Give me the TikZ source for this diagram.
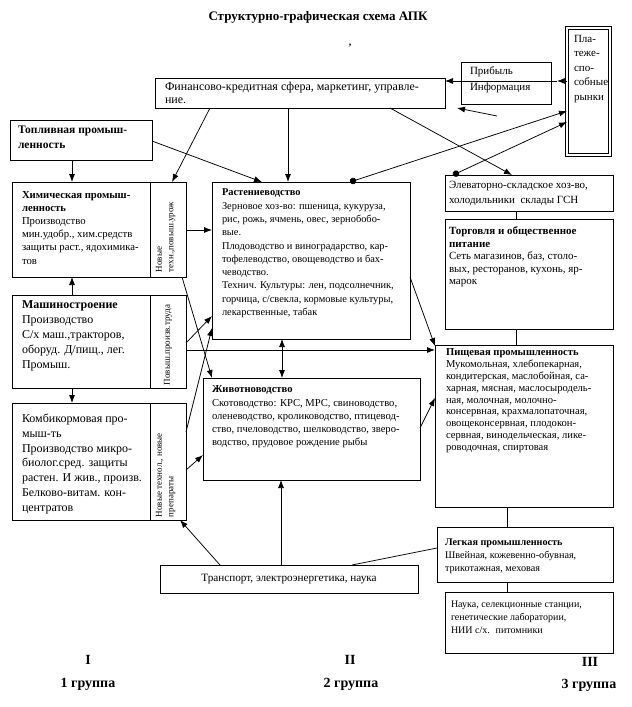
\documentclass[tikz,border=0pt]{standalone}
\usepackage{fontspec}
\setmainfont{Liberation Serif}
\usetikzlibrary{arrows.meta}
\newcommand\fs[2]{\fontsize{#1}{#2}\selectfont}
\newcommand\mkbox[6][]{\node[box,#1,anchor=north west,minimum width={#4-#2},minimum height={#5-#3}] (#6) at (#2,#3) {};}
\begin{document}
\begin{tikzpicture}[x=1pt,y=-1pt,
  box/.style={draw, line width=0.9pt, inner sep=0pt, outer sep=0pt},
  txt/.style={inner sep=0pt, outer sep=0pt, align=left, anchor=north west},
  arr/.style={line width=0.75pt, -{Latex[length=8pt,width=6pt]}},
  dblarr/.style={line width=0.75pt, {Latex[length=8pt,width=6pt]}-{Latex[length=8pt,width=6pt]}},
  ln/.style={line width=0.75pt},
  dotarr/.style={line width=0.75pt, {Circle[length=6.5pt]}-{Latex[length=8pt,width=6pt]}},
  side/.style={inner sep=0pt, outer sep=0pt, align=left, rotate=90, font=\fs{9}{11.5}},
  grp/.style={font=\bfseries\fs{14}{16}, inner sep=0pt}
]
\useasboundingbox (0,0) rectangle (632,707);

% title
\node[font=\bfseries\fs{13}{15}] (title) at (318,17) {Структурно-графическая схема АПК};
\node[font=\bfseries\fs{10}{12}] (comma) at (350,46) {,};

% boxes
\mkbox{155}{78}{445}{108}{fin}
\mkbox{461}{62}{551}{104}{prib}
\mkbox[double, double distance=2.2pt, line width=1.1pt]{567}{28}{610}{155}{plat}
\mkbox{10}{120}{152}{160}{topl}
\mkbox{12}{182}{150}{277}{him}
\mkbox{150}{182}{186}{277}{side1}
\mkbox{12}{295}{150}{388}{mash}
\mkbox{150}{295}{186}{388}{side2}
\mkbox{12}{403}{150}{520}{komb}
\mkbox{150}{403}{186}{520}{side3}
\mkbox{212}{182}{410}{339}{rast}
\mkbox{203}{378}{420}{480}{zhiv}
\mkbox{445}{175}{613}{211}{elev}
\mkbox{445}{219}{613}{329}{torg}
\mkbox{435}{345}{613}{507}{pish}
\mkbox{437}{527}{613}{582}{legk}
\mkbox{445}{592}{613}{653}{nauka}
\mkbox{160}{565}{418}{593}{trans}

% texts
\node[txt, font=\fs{12}{13}] (t-fin) at (165,82) {Финансово-кредитная сфера, маркетинг, управле-\\ние.};
\node[txt, font=\fs{11}{16}] (t-prib) at (470,67) {Прибыль\\Информация};
\node[txt, font=\fs{11}{14.5}] (t-plat) at (574,35) {Пла-\\теже-\\спо-\\собные\\рынки};
\node[txt, font=\bfseries\fs{11.5}{15}] (t-topl) at (18,126) {Топливная промыш-\\ленность};
\node[txt, font=\fs{10.7}{13.2}] (t-him) at (22,191) {\textbf{Химическая промыш-}\\\textbf{ленность}\\Производство\\мин.удобр., хим.средств\\защиты раст., ядохимика-\\тов};
\node[txt, font=\fs{12}{15}] (t-mash) at (22,301) {\textbf{Машиностроение}\\Производство\\С/х маш.,тракторов,\\оборуд. Д/пищ., лег.\\Промыш.};
\node[txt, font=\fs{12}{14.8}] (t-komb) at (22,414) {Комбикормовая про-\\мыш-ть\\Производство микро-\\биолог.сред. защиты\\растен. И жив., произв.\\Белково-витам. кон-\\центратов};
\node[txt, font=\fs{10.4}{13.3}] (t-rast) at (222,189) {\textbf{Растениеводство}\\Зерновое хоз-во: пшеница, кукуруза,\\рис, рожь, ячмень, овес, зернобобо-\\вые.\\Плодоводство и виноградарство, кар-\\тофелеводство, овощеводство и бах-\\чеводство.\\Технич. Культуры: лен, подсолнечник,\\горчица, с/свекла, кормовые культуры,\\лекарственные, табак};
\node[txt, font=\fs{10.6}{13.2}] (t-zhiv) at (212,386) {\textbf{Животноводство}\\Скотоводство: КРС, МРС, свиноводство,\\оленеводство, кролиководство, птицевод-\\ство, пчеловодство, шелководство, зверо-\\водство, прудовое рождение рыбы};
\node[txt, font=\fs{11}{15}] (t-elev) at (449,181) {Элеваторно-складское хоз-во,\\холодильники~ склады ГСН};
\node[txt, font=\fs{11}{12.5}] (t-torg) at (449,227) {\textbf{Торговля и общественное}\\\textbf{питание}\\Сеть магазинов, баз, столо-\\вых, ресторанов, кухонь, яр-\\марок};
\node[txt, font=\fs{10.6}{11.8}] (t-pish) at (446,349) {\textbf{Пищевая промышленность}\\Мукомольная, хлебопекарная,\\кондитерская, маслобойная, са-\\харная, мясная, маслосыродель-\\ная, молочная, молочно-\\консервная, крахмалопаточная,\\овощеконсервная, плодокон-\\сервная, винодельческая, лике-\\роводочная, спиртовая};
\node[txt, font=\fs{10.2}{13}] (t-legk) at (445,539) {\textbf{Легкая промышленность}\\Швейная, кожевенно-обувная,\\трикотажная, меховая};
\node[txt, font=\fs{10}{13}] (t-nauka) at (451,601) {Наука, селекционные станции,\\генетические лаборатории,\\НИИ с/х.~ питомники};
\node[font=\fs{11.2}{13}, inner sep=0pt] (t-trans) at (289,579) {Транспорт, электроэнергетика, наука};

% side (rotated) texts
\node[side, anchor=north west] (s1) at (156,272) {Новые\\техн.,повыш.урож};
\node[side, anchor=west] (s2) at (168,385) {Повыш.произв.труда};
\node[side, anchor=north west] (s3) at (156,517) {Новые технол., новые\\препараты};

% group labels
\node[grp] (g1a) at (88,660) {I};
\node[grp] (g1b) at (88,684) {1 группа};
\node[grp] (g2a) at (350,660) {II};
\node[grp] (g2b) at (351,684) {2 группа};
\node[grp] (g3a) at (590,662) {III};
\node[grp] (g3b) at (589,685) {3 группа};

% connectors
\coordinate (pm) at (557,81);
\draw[arr] (plat.west |- pm) -- (pm);
\draw[arr] (pm) -- (fin.east |- pm);
\coordinate (sa1) at (497,116);
\coordinate (sa2) at (457,108);
\draw[arr] (sa1) -- (sa2);

\draw[arr] (fin.south -| 210,0) -- (side1.north -| 172,0);
\draw[arr] (fin.south -| 288,0) -- (rast.north -| 288,0);
\draw[arr] (fin.south -| 390,0) -- (elev.north -| 512,0);
\draw[arr] (topl.south -| 72,0) -- (him.north -| 72,0);
\draw[arr] (topl.east |- 0,141) -- (rast.north -| 262,0);
\draw[dotarr] (rast.north -| 350,0) -- (plat.west |- 0,111);
\draw[dotarr] (elev.north -| 453,0) -- (plat.west |- 0,122);

\draw[arr] (mash.north -| 72,0) -- (him.south -| 72,0);
\draw[arr] (mash.south -| 72,0) -- (komb.north -| 72,0);

\draw[arr] (side1.east |- 0,230) -- (rast.west |- 0,230);
\draw[arr] (side1.south -| 182,0) -- (zhiv.north -| 212,0);
\draw[arr] (side2.east |- 0,343) -- (rast.west |- 0,316);
\draw[arr] (side2.east |- 0,350) -- (pish.west |- 0,350);
\draw[arr] (side3.east |- 0,432) -- (rast.west |- 0,328);
\draw[arr] (side3.east |- 0,470) -- (zhiv.west |- 0,455);

\draw[dblarr] (rast.south -| 282,0) -- (zhiv.north -| 282,0);
\draw[arr] (rast.east |- 0,277) -- (pish.west |- 0,346);
\draw[arr] (zhiv.east |- 0,428) -- (pish.west |- 0,398);

\draw[arr] (trans.north -| 220,0) -- (side3.south -| 180,0);
\draw[arr] (trans.north -| 281,0) -- (zhiv.south -| 281,0);
\draw[ln] (trans.north -| 352,0) -- (legk.west |- 0,548);

\draw[ln] (elev.south -| 516,0) -- (torg.north -| 516,0);
\draw[ln] (torg.south -| 516,0) -- (pish.north -| 516,0);
\draw[ln] (pish.south -| 507,0) -- (legk.north -| 507,0);
\draw[ln] (legk.south -| 507,0) -- (nauka.north -| 507,0);
\end{tikzpicture}
\end{document}
